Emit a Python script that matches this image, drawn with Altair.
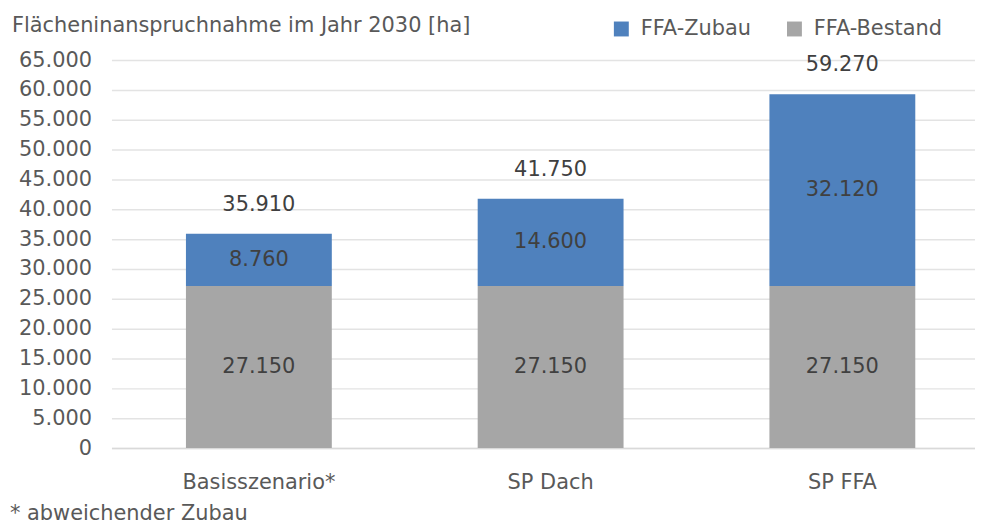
import altair as alt
import pandas as pd

categories = ["Basisszenario*", "SP Dach", "SP FFA"]
bestand = [27150, 27150, 27150]
zubau = [8760, 14600, 32120]
series = ["FFA-Zubau", "FFA-Bestand"]
colors = ["#4F81BD", "#A6A6A6"]
y_ticks = list(range(0, 65001, 5000))
title_text = "Flächeninanspruchnahme im Jahr 2030 [ha]"
footnote = "* abweichender Zubau"

rows = []
for c, b, z in zip(categories, bestand, zubau):
    rows.append({"cat": c, "series": "FFA-Bestand", "value": b, "ord": 0})
    rows.append({"cat": c, "series": "FFA-Zubau", "value": z, "ord": 1})
df = pd.DataFrame(rows)

FONT = "DejaVu Sans"
FS = 21
TXT = "#595959"
FMT = "replace(format(datum.value, ',d'), ',', '.')"

yaxis = alt.Axis(values=y_ticks, labelExpr=FMT, ticks=False, domain=False, title=None,
                 grid=True, gridColor="#E3E3E3", gridWidth=1.5, labelOverlap=False,
                 labelFontSize=FS, labelColor=TXT, labelFont=FONT, labelPadding=20)
xaxis = alt.Axis(labelAngle=0, ticks=False, domain=True, domainColor="#D9D9D9", title=None,
                 domainWidth=1.5, labelPadding=24, labelFontSize=FS,
                 labelColor=TXT, labelFont=FONT, grid=False)
xscale = alt.Scale(paddingInner=0.5, paddingOuter=0.23, align=0.555)
yscale = alt.Scale(domain=[0, 65000], nice=False)

def xenc():
    return alt.X("cat:N", sort=categories, title=None, scale=xscale, axis=xaxis)

base = alt.Chart(df)

bars = base.mark_bar().encode(
    x=xenc(),
    y=alt.Y("value:Q", stack="zero", scale=yscale, title=None, axis=yaxis),
    color=alt.Color("series:N", scale=alt.Scale(domain=series, range=colors),
                    legend=alt.Legend(title=None, orient="none", legendX=502, legendY=-42,
                                      direction="horizontal", symbolType="square",
                                      symbolSize=225, symbolStrokeWidth=0,
                                      labelFontSize=FS, labelColor=TXT, labelFont=FONT,
                                      labelOffset=9, columnPadding=33, padding=0)),
    order=alt.Order("ord:Q", sort="ascending"),
)

seg_labels = base.transform_stack(
    stack="value", groupby=["cat"], as_=["y0", "y1"],
    sort=[alt.SortField("ord", order="ascending")]
).transform_calculate(
    mid="(datum.y0 + datum.y1) / 2", lbl=FMT
).mark_text(fontSize=FS, font=FONT, color="#404040", baseline="middle").encode(
    x=xenc(),
    y=alt.Y("mid:Q", scale=yscale, title=None, axis=yaxis),
    text="lbl:N",
)

totals = base.transform_aggregate(
    value="sum(value)", groupby=["cat"]
).transform_calculate(lbl=FMT).mark_text(
    fontSize=FS, font=FONT, color="#404040", baseline="middle", dy=-29
).encode(
    x=xenc(),
    y=alt.Y("value:Q", scale=yscale, title=None, axis=yaxis),
    text="lbl:N",
)

texts = pd.DataFrame({"t": [title_text, footnote], "px": [-100, -102], "py": [-34, 456]})
notes = alt.Chart(texts).mark_text(
    fontSize=FS, font=FONT, color=TXT, align="left", baseline="middle"
).encode(x=alt.X("px:Q", scale=None), y=alt.Y("py:Q", scale=None), text="t:N")

chart = alt.layer(bars, seg_labels, totals, notes).properties(
    width=868, height=390,
    autosize=alt.AutoSizeParams(type="none"),
    padding={"left": 104, "top": 51, "right": 0, "bottom": 78},
).configure_view(stroke=None)

chart.save("out.html", embed_options={"renderer": "svg", "actions": False})
